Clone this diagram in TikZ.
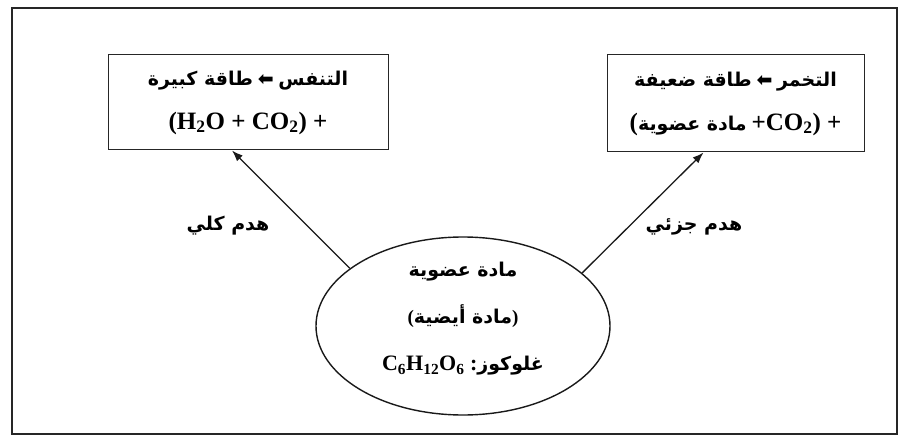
\documentclass[tikz,border=0pt]{standalone}
\usepackage{fontspec}
\setmainfont{Liberation Serif}
\newfontfamily\arabicfont[Script=Arabic]{DejaVu Sans}
\newfontfamily\symbolfont{DejaVu Sans}
\TeXXeTstate=1
\usetikzlibrary{shapes.geometric, arrows.meta, positioning}

\newcommand{\artext}[1]{{\arabicfont\bfseries\beginR #1\endR}}
\newcommand{\larrow}{{\symbolfont\bfseries ⬅}}
\newcommand{\chemfont}{\fontsize{25}{44}\selectfont}

\begin{document}
\begin{tikzpicture}[
  x=1pt, y=-1pt,
  outerframe/.style={draw=black!85, line width=1.2pt},
  resbox/.style={
    rectangle, draw=black!85, line width=1pt,
    inner sep=0pt, align=center,
    font=\fontsize{19}{44}\selectfont\bfseries
  },
  srcshape/.style={
    ellipse, draw=black!90, line width=1.4pt,
    minimum width=294pt, minimum height=178pt, inner sep=0pt
  },
  srctext/.style={align=center, font=\fontsize{19}{47}\selectfont\bfseries},
  pathlabel/.style={font=\fontsize{19}{22}\selectfont},
  arr/.style={-{Latex[length=11pt, width=8pt]}, line width=1.3pt, draw=black!90}
]
\useasboundingbox (0,0) rectangle (908,441);

%% Outer frame
\draw[outerframe] (12,8) rectangle (897,434);

%% Result boxes (top)
\node[resbox, minimum width=280pt, minimum height=95pt] (resp) at (248,102.5)
  {\artext{طاقة كبيرة} \larrow{} \artext{التنفس}\\
   {\chemfont (H\textsubscript{2}O + CO\textsubscript{2}) +}};
\node[resbox, minimum width=257pt, minimum height=97pt] (ferm) at (735.5,103.5)
  {\artext{طاقة ضعيفة} \larrow{} \artext{التخمر}\\
   {\chemfont (}\artext{مادة عضوية} {\chemfont +CO\textsubscript{2}) +}};

%% Source substance (bottom)
\node[srcshape] (src) at (463,326) {};
\node[srctext] (srclbl) at (463,319)
  {\artext{مادة عضوية}\\
   (\artext{مادة أيضية})\\
   {\fontsize{22}{47}\selectfont C\textsubscript{6}H\textsubscript{12}O\textsubscript{6} :}\artext{غلوكوز}};

%% Breakdown arrows
\draw[arr] (src.153) -- ([xshift=-16pt]resp.south);
\draw[arr] (src.24)  -- ([xshift=-32pt]ferm.south);

\node[pathlabel] (fulllbl) at (228,226) {\artext{هدم كلي}};
\node[pathlabel] (partlbl) at (694,227) {\artext{هدم جزئي}};

\end{tikzpicture}
\end{document}
